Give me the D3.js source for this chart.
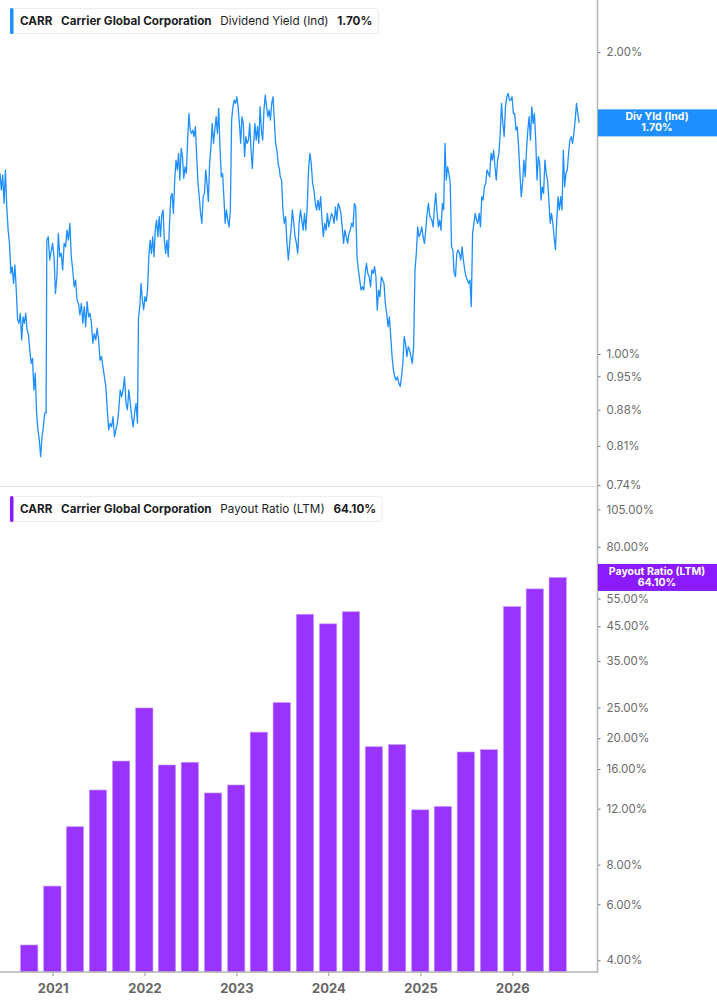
<!DOCTYPE html>
<html>
<head>
<meta charset="utf-8">
<script src="https://cdn.jsdelivr.net/npm/d3@7/dist/d3.min.js"></script>
<style>
    body { margin: 0; background: #fff; }
    svg { display: block; font-family: Inter, "Noto Sans", sans-serif; }
</style>
</head>
<body>
<svg width="717" height="1005"></svg>
<script>
// dividend yield (ind), %; each segment runs between its two dates
var yieldSegDates = [
    ['2020-06-06', '2020-12-06'],
    ['2020-12-09', '2021-12-04'],
    ['2021-12-08', '2023-06-21'],
    ['2023-06-24', '2025-02-07'],
    ['2025-02-15', '2026-09-23']
];
var yieldSeg1 = [1.514,1.457,1.508,1.413,1.525,1.402,1.329,1.289,1.203,1.222,
    1.176,1.227,1.158,1.081,1.073,1.098,1.033,1.089,1.073,1.098,
    1.057,1.045,1.009,0.979,0.990,0.921,0.957,0.873,0.840,0.821,
    0.790,0.827,0.846,0.873,0.873];
var yieldSeg2 = [1.299,1.309,1.241,1.265,1.289,1.250,1.149,1.194,1.319,1.250,
    1.260,1.213,1.289,1.279,1.329,1.299,1.350,1.250,1.213,1.167,
    1.185,1.132,1.123,1.094,1.123,1.073,1.115,1.065,1.128,1.089,
    1.098,1.073,1.025,1.048,1.033,1.061,1.033,0.986,0.994,0.971,
    0.949,0.928,0.880,0.840,0.853,0.846,0.866,0.827,0.840,0.853,
    0.880,0.921,0.907,0.921,0.949,0.893,0.880,0.921,0.893,0.866,
    0.846,0.873,0.893,0.853];
var yieldSeg3 = [1.086,1.115,1.176,1.132,1.107,1.141,1.128,1.158,1.250,1.299,
    1.260,1.309,1.250,1.329,1.360,1.309,1.371,1.309,1.376,1.392,
    1.299,1.260,1.299,1.250,1.350,1.435,1.446,1.381,1.491,1.561,
    1.526,1.585,1.491,1.603,1.573,1.497,1.537,1.514,1.634,1.737,
    1.672,1.659,1.672,1.647,1.685,1.573,1.479,1.435,1.381,1.350,
    1.435,1.446,1.526,1.479,1.419,1.549,1.609,1.698,1.622,1.672,
    1.724,1.659,1.757,1.609,1.502,1.514,1.435,1.350,1.392,1.360,
    1.339,1.392,1.711,1.764,1.791,1.778,1.805,1.764,1.698,1.622,
    1.724,1.698,1.573,1.647,1.622,1.634,1.698,1.597,1.531,1.622,
    1.698,1.634,1.685,1.622,1.764,1.672,1.634,1.751,1.812,1.764,
    1.724,1.751,1.711,1.778,1.805,1.711,1.622,1.597,1.549,1.526];
var yieldSeg4 = [1.502,1.491,1.392,1.350,1.371,1.289,1.241,1.289,1.329,1.392,
    1.350,1.309,1.289,1.260,1.350,1.392,1.360,1.329,1.381,1.329,
    1.402,1.526,1.585,1.549,1.480,1.457,1.413,1.392,1.424,1.392,
    1.435,1.360,1.309,1.350,1.329,1.381,1.339,1.360,1.381,1.371,
    1.350,1.402,1.360,1.413,1.402,1.381,1.339,1.289,1.329,1.309,
    1.289,1.319,1.329,1.350,1.339,1.413,1.402,1.250,1.213,1.185,
    1.158,1.167,1.158,1.203,1.231,1.203,1.194,1.167,1.213,1.203,
    1.222,1.194,1.106,1.158,1.141,1.194,1.185,1.176,1.123,1.098,
    1.065,1.089,1.041,0.994,0.964,0.949,0.942,0.949,0.935,0.928,
    0.949,0.979,1.041,1.025,0.994,1.017,1.009,0.994,0.979,1.017,
    1.213,1.260,1.339,1.309,1.319,1.339,1.309,1.289,1.329,1.381,
    1.413,1.371];
var yieldSeg5 = [1.360,1.339,1.402,1.446,1.381,1.339,1.360,1.329,1.413,1.392,
    1.622,1.491,1.537,1.514,1.479,1.279,1.270,1.204,1.194,1.260,
    1.270,1.260,1.241,1.279,1.241,1.213,1.194,1.185,1.176,1.185,
    1.115,1.319,1.350,1.381,1.360,1.350,1.381,1.339,1.435,1.424,
    1.468,1.479,1.526,1.514,1.502,1.585,1.561,1.597,1.537,1.491,
    1.561,1.585,1.659,1.778,1.698,1.647,1.764,1.805,1.819,1.791,
    1.791,1.805,1.737,1.737,1.672,1.685,1.609,1.514,1.435,1.479,
    1.561,1.502,1.597,1.672,1.724,1.634,1.764,1.698,1.737,1.634,
    1.491,1.573,1.549,1.424,1.468,1.446,1.561,1.514,1.491,1.424,
    1.350,1.381,1.350,1.309,1.270,1.360,1.435,1.392,1.435,1.392,
    1.597,1.468,1.514,1.526,1.585,1.634,1.647,1.622,1.659,1.711,
    1.778,1.737,1.70];

// payout ratio (LTM), %, one bar per fiscal quarter
var payoutDates = ['2020-09-30','2020-12-31','2021-03-31','2021-06-30','2021-09-30','2021-12-31',
    '2022-03-31','2022-06-30','2022-09-30','2022-12-31','2023-03-31','2023-06-30',
    '2023-09-30','2023-12-31','2024-03-31','2024-06-30','2024-09-30','2024-12-31',
    '2025-03-31','2025-06-30','2025-09-30','2025-12-31','2026-03-31','2026-06-30'];
var payoutValues = [4.47,6.85,10.53,13.74,16.95,24.9,16.47,16.8,13.45,14.25,20.9,25.9,
    49.1,45.8,50.0,18.8,19.1,11.9,12.2,18.1,18.4,51.9,59.0,64.1];

var yieldTicks = [0.74, 0.81, 0.88, 0.95, 1.00, 2.00];
var payoutTicks = [4, 6, 8, 12, 16, 20, 25, 35, 45, 55, 80, 105];
var yearTicks = ['2021', '2022', '2023', '2024', '2025', '2026'];

var lastYield = 1.70;
var lastPayout = 64.10;

var blue = '#1f8fff';
var purple = '#9933ff';

var svg = d3.select('svg');
var plotRight = 597.5;

var x = d3.scaleUtc()
    .domain([new Date('2020-06-06'), new Date('2026-12-05')])
    .range([0, plotRight]);
var yTop = d3.scaleLog().domain([0.7386, 2.254]).range([486, 0]);
var yBot = d3.scaleLog().domain([3.675, 120.8]).range([972, 490]);

// build dated points of the line
var yieldPoints = [];
[yieldSeg1, yieldSeg2, yieldSeg3, yieldSeg4, yieldSeg5].forEach(function (vals, k) {
    var t = d3.scaleLinear()
        .domain([0, vals.length - 1])
        .range([+new Date(yieldSegDates[k][0]), +new Date(yieldSegDates[k][1])]);
    vals.forEach(function (v, i) {
        yieldPoints.push({date: new Date(t(i)), value: v});
    });
});

svg.append('clipPath').attr('id', 'clipTop')
    .append('rect').attr('x', 0).attr('y', 0).attr('width', plotRight).attr('height', 486);

// panel separator
svg.append('line')
    .attr('x1', 0).attr('x2', plotRight).attr('y1', 486.5).attr('y2', 486.5)
    .attr('stroke', '#e3e3e3').attr('stroke-width', 1);

// line
svg.append('path')
    .datum(yieldPoints)
    .attr('clip-path', 'url(#clipTop)')
    .attr('fill', 'none')
    .attr('stroke', blue)
    .attr('stroke-width', 1.3)
    .attr('stroke-linejoin', 'round')
    .attr('d', d3.line()
        .x(function (d) { return x(d.date); })
        .y(function (d) { return yTop(d.value); }));

// bars
var q = payoutDates.map(function (s) { return new Date(s); });
var barW = 0.755 * (x(q[q.length - 1]) - x(q[0])) / (q.length - 1);
svg.selectAll('.bar')
    .data(payoutValues)
    .enter()
    .append('rect')
        .attr('class', 'bar')
        .attr('x', function (d, i) { return x(q[i]) - barW / 2; })
        .attr('width', barW)
        .attr('y', function (d) { return yBot(d); })
        .attr('height', function (d) { return 972 - yBot(d); })
        .attr('fill', purple)
        .attr('stroke', '#c79cff')
        .attr('stroke-width', 0.6);

// right axes
function styleAxis(g) {
    g.select('.domain').remove();
    g.selectAll('.tick line').attr('stroke', '#777').attr('stroke-width', 1);
    g.selectAll('.tick text')
        .attr('fill', '#6a6a6a')
        .attr('font-size', 11.5)
        .attr('font-family', 'Inter, sans-serif');
}

svg.append('g')
    .attr('transform', 'translate(' + plotRight + ',0)')
    .call(d3.axisRight(yTop).tickValues(yieldTicks).tickSize(3).tickPadding(6)
        .tickFormat(function (d) { return d.toFixed(2) + '%'; }))
    .call(styleAxis);

svg.append('g')
    .attr('transform', 'translate(' + plotRight + ',0)')
    .call(d3.axisRight(yBot).tickValues(payoutTicks).tickSize(3).tickPadding(6)
        .tickFormat(function (d) { return d.toFixed(2) + '%'; }))
    .call(styleAxis);

// bottom axis
var xAxis = svg.append('g')
    .attr('transform', 'translate(0,972)')
    .call(d3.axisBottom(x)
        .tickValues(yearTicks.map(function (s) { return new Date(s + '-01-01'); }))
        .tickSize(4).tickPadding(8)
        .tickFormat(d3.utcFormat('%Y')));
xAxis.select('.domain').remove();
xAxis.selectAll('.tick line').attr('stroke', '#999');
xAxis.selectAll('.tick text')
    .attr('fill', '#666')
    .attr('font-size', 13)
    .attr('font-weight', 700)
    .attr('font-family', 'Inter, sans-serif');

// frame lines
svg.append('line')
    .attr('x1', 0).attr('x2', plotRight + 0.5).attr('y1', 972).attr('y2', 972)
    .attr('stroke', '#b3b3b3').attr('stroke-width', 1.5);
svg.append('line')
    .attr('x1', plotRight).attr('x2', plotRight).attr('y1', 0).attr('y2', 972.7)
    .attr('stroke', '#b3b3b3').attr('stroke-width', 1.5);

// price tags on the right axis
function tag(yPos, color, line1, line2) {
    var g = svg.append('g');
    g.append('rect')
        .attr('x', plotRight + 0.5).attr('y', yPos - 13.5)
        .attr('width', 717 - plotRight).attr('height', 27)
        .attr('fill', color);
    g.append('text')
        .attr('x', 657).attr('y', yPos - 2.8)
        .attr('text-anchor', 'middle')
        .attr('fill', '#fff').attr('font-size', 10.5).attr('font-weight', 700)
        .text(line1);
    g.append('text')
        .attr('x', 657).attr('y', yPos + 8.6)
        .attr('text-anchor', 'middle')
        .attr('fill', '#fff').attr('font-size', 10.5).attr('font-weight', 700)
        .text(line2);
}
tag(yTop(lastYield), blue, 'Div Yld (Ind)', lastYield.toFixed(2) + '%');
tag(yBot(lastPayout), '#8c1aff', 'Payout Ratio (LTM)', lastPayout.toFixed(2) + '%');

// legends
function legend(top, color, parts) {
    var g = svg.append('g');
    var box = g.append('rect')
        .attr('x', 10.5).attr('y', top + 0.5).attr('height', 25).attr('rx', 3)
        .attr('fill', '#fff').attr('stroke', '#ececec');
    g.append('rect')
        .attr('x', 10).attr('y', top).attr('width', 3.5).attr('height', 26).attr('rx', 1.5)
        .attr('fill', color);
    var cx = 20;
    parts.forEach(function (p) {
        var t = g.append('text')
            .attr('x', cx).attr('y', top + 17)
            .attr('fill', '#1d1d1f')
            .attr('font-size', 11.7)
            .attr('font-weight', p.bold ? 700 : 400)
            .text(p.text);
        cx += t.node().getComputedTextLength() + 8.7;
    });
    box.attr('width', cx - 8.7 - 10.5 + 6);
}
legend(8, blue, [
    {text: 'CARR', bold: true},
    {text: 'Carrier Global Corporation', bold: true},
    {text: 'Dividend Yield (Ind)', bold: false},
    {text: lastYield.toFixed(2) + '%', bold: true}
]);
legend(496, '#8c1aff', [
    {text: 'CARR', bold: true},
    {text: 'Carrier Global Corporation', bold: true},
    {text: 'Payout Ratio (LTM)', bold: false},
    {text: lastPayout.toFixed(2) + '%', bold: true}
]);
</script>
</body>
</html>
